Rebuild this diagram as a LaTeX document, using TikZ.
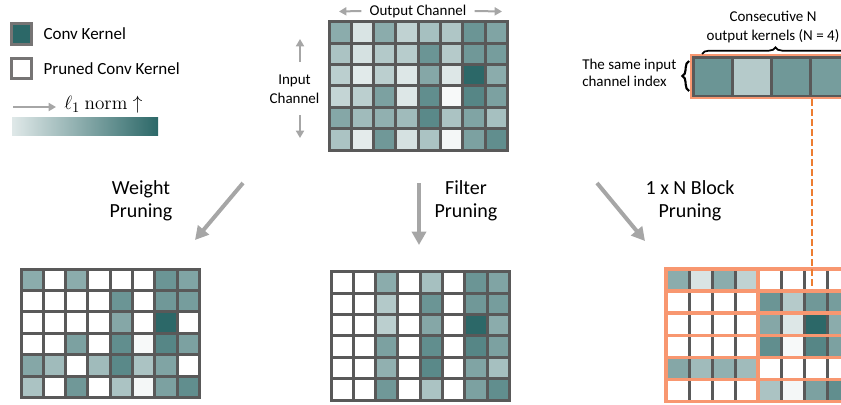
\documentclass[tikz,border=0pt]{standalone}
\usepackage{amsmath}
\usepackage[no-math]{fontspec}
\setmainfont{Carlito}
\usepackage{tikz}
\usetikzlibrary{arrows.meta,positioning,decorations.pathreplacing}

\definecolor{kern}{RGB}{44,104,104}
\definecolor{gridgray}{RGB}{89,89,89}
\definecolor{legendgray}{RGB}{118,116,116}
\definecolor{arrowgray}{RGB}{166,166,166}
\definecolor{blockorange}{RGB}{248,151,112}
\definecolor{dashorange}{RGB}{237,125,49}

% grid of kernels: x0, y0, cell width, cell height, rows of l1 values
\newcommand{\kgrid}[5]{%
  \foreach \kline [count=\ri] in {#5} {%
    \foreach \v [count=\ci] in \kline {%
      \filldraw[cell, fill=kern!\v!white] ({#1+(\ci-1)*#3},{#2+(\ri-1)*#4}) rectangle ++(#3,#4);
    }%
  }%
}

\begin{document}
\begin{tikzpicture}[x=0.75pt,y=-0.75pt,
    cell/.style={draw=gridgray,line width=2.25pt},
    legbox/.style={draw=legendgray,line width=2.25pt,minimum size=15.4pt,inner sep=0pt},
    leglbl/.style={font=\fontsize{12.75}{15}\selectfont,inner sep=0pt},
    lbl/.style={font=\fontsize{11.25}{14.25}\selectfont,inner sep=0pt,align=center},
    biglbl/.style={font=\fontsize{15}{17.25}\selectfont,inner sep=0pt,align=center},
    smallarrow/.style={draw=arrowgray,line width=1.5pt,-{Triangle[length=5.5pt,width=6pt]}},
    bigarrow/.style={draw=arrowgray,line width=3pt,-{Triangle[length=10pt,width=10.5pt]}},
    blockline/.style={draw=blockorange,line width=2.6pt},
    dashline/.style={draw=dashorange,line width=2.2pt,dash pattern=on 5pt off 2.5pt},
    brace/.style={draw=black,line width=1.3pt,decorate}]
\useasboundingbox (0,0) rectangle (841,404);
\clip (0,0) rectangle (841,404);

% legend
\node (kbox) [legbox, fill=kern] at (21.5,34) {};
\node (kboxlbl) [leglbl, right=7.5pt of kbox] {Conv Kernel};
\node (pbox) [legbox, fill=white] at (21.5,68.5) {};
\node (pboxlbl) [leglbl, right=7.5pt of pbox] {Pruned Conv Kernel};
\node (norm) [anchor=west, inner sep=0pt, font=\fontsize{15}{18}\selectfont] at (64,105) {$\ell_1\ \mathrm{norm}\uparrow$};
\coordinate (normtail) at (13,107);
\coordinate (normtip) at (56,107);
\draw[smallarrow] (normtail) -- (normtip);
\shade[left color=kern!15!white, right color=kern] (12,117) rectangle (158,135);

% original kernels
\kgrid{329}{21.7}{22.3}{21.4}{{55,18,55,30,42,38,70,60},{40,20,36,34,70,35,68,65},{32,14,32,16,58,16,100,55},{28,32,62,16,75,4,80,62},{58,45,52,45,78,40,60,42},{40,13,68,20,40,5,62,75}}
\node (outch) [lbl] at (418,11) {Output Channel};
\coordinate (outl) at (339,11.5);
\coordinate (outr) at (502,11.5);
\draw[smallarrow] ([xshift=-6pt]outch.west) -- (outl);
\draw[smallarrow] ([xshift=6pt]outch.east) -- (outr);
\node (inch) [lbl] at (294.5,89.5) {Input\\Channel};
\coordinate (inupa) at (300,62);
\coordinate (inupb) at (300,39);
\coordinate (indna) at (300,115);
\coordinate (indnb) at (300,138);
\draw[smallarrow] (inupa) -- (inupb);
\draw[smallarrow] (indna) -- (indnb);

% pruning arrows
\coordinate (wfrom) at (243,183);
\coordinate (wto) at (195,240);
\coordinate (ffrom) at (419,183);
\coordinate (fto) at (419,245);
\coordinate (bfrom) at (597,183);
\coordinate (bto) at (645,241);
\draw[bigarrow] (wfrom) -- (wto);
\draw[bigarrow] (ffrom) -- (fto);
\draw[bigarrow] (bfrom) -- (bto);
\node (wlbl) [biglbl] at (141,201) {Weight\\Pruning};
\node (flbl) [biglbl] at (466,201) {Filter\\Pruning};
\node (blbl) [biglbl] at (690,201) {1 x N Block\\Pruning};

% weight pruning
\kgrid{21}{269}{22.3}{21.4}{{55,0,55,0,0,0,70,60},{0,0,0,0,70,0,68,65},{0,0,0,0,58,0,100,0},{0,0,62,0,75,4,80,62},{58,45,0,45,78,40,60,0},{40,0,68,0,40,5,62,75}}

% filter pruning
\kgrid{331}{271.7}{22.3}{21.4}{{0,0,55,0,42,0,70,60},{0,0,36,0,70,0,68,65},{0,0,32,0,58,0,100,55},{0,0,62,0,75,0,80,62},{0,0,52,0,78,0,60,42},{0,0,68,0,40,0,62,75}}

% 1 x N block pruning
\kgrid{666}{269}{23}{22.1}{{55,18,55,30,0,0,0,0},{0,0,0,0,70,35,68,65},{0,0,0,0,58,16,100,55},{0,0,0,0,75,4,80,62},{58,45,52,45,0,0,0,0},{0,0,0,0,40,5,62,75}}
\foreach \ri in {0,...,5}
  \foreach \bi in {0,1}
    \draw[blockline] ({666+\bi*92},{269+\ri*22.1}) rectangle ++(92,22.1);

% one block of the same input channel
\kgrid{693}{57}{39.3}{39}{{70,35,68,65}}
\draw[blockline, line width=1.8pt] (691,55) rectangle (852,98);
\draw[brace, decoration={brace,amplitude=5pt}] (702,54) -- (849,54);
\node (conslbl) [lbl] at (773,27) {Consecutive N\\output kernels (N = 4)};
\draw[brace, line width=1.6pt, decoration={brace,amplitude=5pt}] (689,91) -- (689,61);
\node (samelbl) [lbl, align=left, anchor=west, font=\fontsize{11.25}{12.75}\selectfont] at (582,72.5) {The same input\\channel index};
\coordinate (dtop) at (812,99);
\coordinate (dbot) at (812,289);
\draw[dashline] (dtop) -- (dbot);
\end{tikzpicture}
\end{document}
